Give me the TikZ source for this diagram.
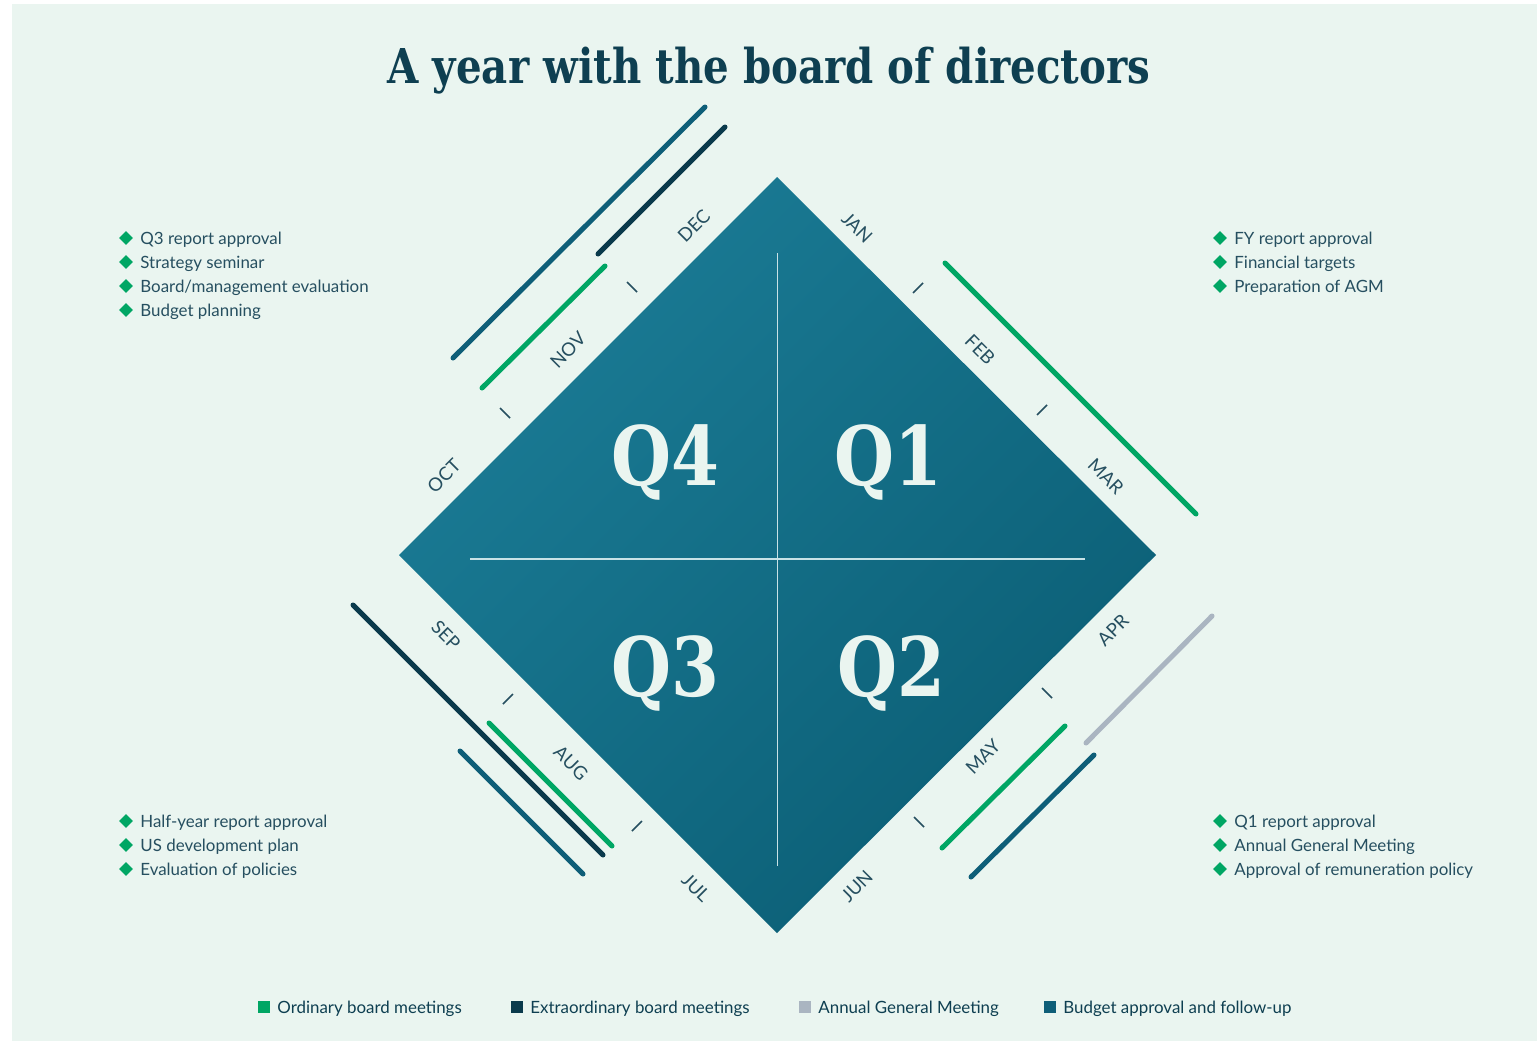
\documentclass[tikz,border=0pt]{standalone}
\usepackage{fontspec}
\setmainfont{Lato}
\newfontfamily\headfont{DejaVu Serif}[FakeStretch=0.84]
\usepackage{tikz}
\usetikzlibrary{positioning, shapes.geometric}

\definecolor{paper}{RGB}{234,245,240}
\definecolor{ink}{RGB}{38,79,96}
\definecolor{deepink}{RGB}{14,63,81}
\definecolor{qlight}{RGB}{27,124,150}
\definecolor{qdark}{RGB}{11,94,117}
\definecolor{crossline}{RGB}{200,226,230}
\definecolor{meetgreen}{RGB}{0,166,100}
\definecolor{extradark}{RGB}{10,58,76}
\definecolor{agmgray}{RGB}{170,181,193}
\definecolor{budgetteal}{RGB}{14,94,120}

\tikzset{
  month/.style={text=ink, font=\fontsize{18.5}{18.5}\selectfont, inner sep=0pt},
  tickmark/.style={draw=ink, line width=1.6pt},
  bar/.style={line width=5pt, line cap=round},
  bullet/.style={diamond, fill=meetgreen, inner sep=0pt, minimum size=14pt},
  item/.style={text=ink, font=\fontsize{16.9}{16.9}\selectfont, inner sep=0pt,
    text height=12pt, text depth=0pt},
  quarter/.style={text=paper, font=\headfont\bfseries\fontsize{82}{82}\selectfont,
    anchor=base, inner sep=0pt},
  keybox/.style={fill=#1, minimum size=12pt, inner sep=0pt},
  keytext/.style={text=deepink, font=\fontsize{16.9}{16.9}\selectfont, inner sep=0pt,
    text height=12pt, text depth=0pt}
}

\begin{document}
\begin{tikzpicture}[x=1pt, y=-1pt]
\useasboundingbox (0,0) rectangle (1537,1041);
\fill[white] (0,0) rectangle (1537,1041);
\fill[paper] (12,4) rectangle (1537,1041);

\node[text=deepink, font=\headfont\bfseries\fontsize{48}{48}\selectfont,
  anchor=base, inner sep=0pt] (title) at (769,84) {A year with the board of directors};

% the year as a diamond, one corner per quarter
\coordinate (top) at (777,177);
\coordinate (right) at (1156,555);
\coordinate (bottom) at (777,933);
\coordinate (left) at (399,555);
\shade[top color=qlight, bottom color=qdark, shading angle=45]
  (top) -- (right) -- (bottom) -- (left) -- cycle;
\draw[crossline, line width=1.5pt] (777.5,253) -- (777.5,866);
\draw[crossline, line width=1.5pt] (470,559) -- (1085,559);

\node[quarter] (q4) at (665,485) {Q4};
\node[quarter] (q1) at (888,485) {Q1};
\node[quarter] (q3) at (665,696) {Q3};
\node[quarter] (q2) at (891,696) {Q2};

% months round the edges
\foreach \m/\x/\y/\a in {DEC/694/226/45, NOV/568/350/45, OCT/444/476/45,
    JAN/857/228/-45, FEB/980/350/-45, MAR/1106/476/-45,
    APR/1113/630/45, MAY/983/757/45, JUN/857/886/45,
    SEP/446/635/-45, AUG/571/763/-45, JUL/696/888/-45}
  \node[month, rotate=\a] (m\m) at (\x,\y) {\m};

\foreach \x/\y in {632/287, 505/413, 1047/693, 919/822}
  \draw[tickmark] (\x-5,\y-5) -- (\x+5,\y+5);
\foreach \x/\y in {918/288, 1042/410, 508/699, 637/826}
  \draw[tickmark] (\x+5,\y-5) -- (\x-5,\y+5);

% meetings per quarter
\foreach \col/\xa/\ya/\xb/\yb in {budgetteal/453/358/705/107, extradark/598/254/725/127,
    meetgreen/482/388/605/266, meetgreen/945/263/1196/514,
    agmgray/1086/743/1212/616, meetgreen/942/848/1065/726, budgetteal/971/877/1094/755,
    extradark/353/605/603/855, meetgreen/489/723/612/846, budgetteal/460/751/583/874}
  \draw[bar, \col] (\xa,\ya) -- (\xb,\yb);

\foreach \txt [count=\i] in {Q3 report approval, Strategy seminar,
    Board/management evaluation, Budget planning} {
  \node[bullet] (q4b\i) at (126,214+24*\i) {};
  \node[item, right=7pt of q4b\i] (q4t\i) {\txt};
}
\foreach \txt [count=\i] in {FY report approval, Financial targets,
    Preparation of AGM} {
  \node[bullet] (q1b\i) at (1220,214+24*\i) {};
  \node[item, right=7pt of q1b\i] (q1t\i) {\txt};
}
\foreach \txt [count=\i] in {Half-year report approval, US development plan,
    Evaluation of policies} {
  \node[bullet] (q3b\i) at (126,797+24*\i) {};
  \node[item, right=7pt of q3b\i] (q3t\i) {\txt};
}
\foreach \txt [count=\i] in {Q1 report approval, Annual General Meeting,
    Approval of remuneration policy} {
  \node[bullet] (q2b\i) at (1220,797+24*\i) {};
  \node[item, right=7pt of q2b\i] (q2t\i) {\txt};
}

% legend
\foreach \col/\x/\txt in {meetgreen/264/Ordinary board meetings,
    extradark/517/Extraordinary board meetings,
    agmgray/805/Annual General Meeting,
    budgetteal/1050/Budget approval and follow-up} {
  \node[keybox=\col] (key\x) at (\x,1007) {};
  \node[keytext, right=7pt of key\x] (keyt\x) {\txt};
}
\end{tikzpicture}
\end{document}
